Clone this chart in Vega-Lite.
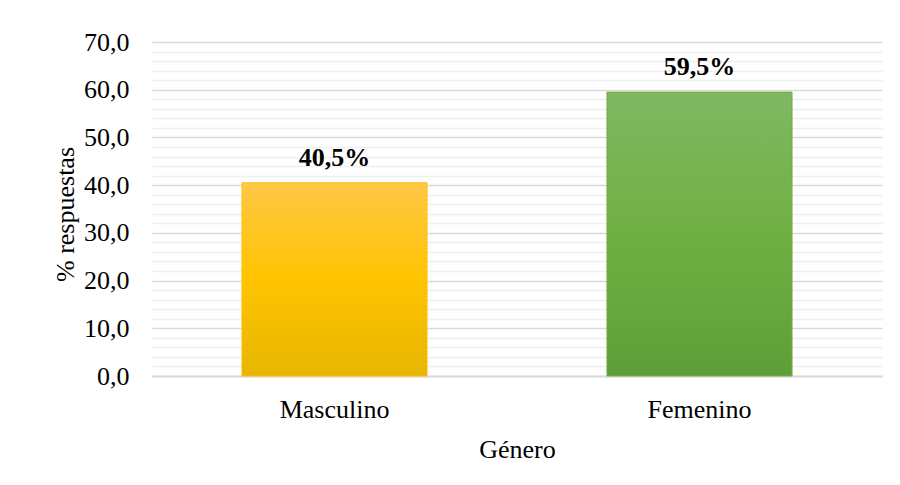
{
  "$schema": "https://vega.github.io/schema/vega-lite/v6.json",
  "autosize": "none",
  "width": 730,
  "height": 334,
  "padding": {"left": 152, "top": 42, "right": 18, "bottom": 109},
  "background": "white",
  "config": {
    "view": {"stroke": null},
    "font": "Liberation Serif"
  },
  "data": {
    "values": [
      {"genero": "Masculino", "pct": 40.5, "label": "40,5%"},
      {"genero": "Femenino", "pct": 59.5, "label": "59,5%"}
    ]
  },
  "encoding": {
    "x": {
      "field": "genero",
      "type": "nominal",
      "sort": ["Masculino", "Femenino"],
      "scale": {"paddingInner": 0.493, "paddingOuter": 0.2465},
      "axis": {
        "title": "Género",
        "labelAngle": 0,
        "labelFont": "Liberation Serif",
        "labelFontSize": 26,
        "labelColor": "#000000",
        "labelPadding": 20,
        "ticks": false,
        "domainColor": "#d9d9d9",
        "domainWidth": 2,
        "titleFont": "Liberation Serif",
        "titleFontSize": 26,
        "titleFontWeight": "normal",
        "titleColor": "#000000",
        "titlePadding": 14
      }
    },
    "y": {
      "field": "pct",
      "type": "quantitative",
      "scale": {"domain": [0, 70], "nice": false},
      "axis": {
        "title": "% respuestas",
        "values": [0, 2, 4, 6, 8, 10, 12, 14, 16, 18, 20, 22, 24, 26, 28, 30, 32, 34, 36, 38, 40, 42, 44, 46, 48, 50, 52, 54, 56, 58, 60, 62, 64, 66, 68, 70],
        "labelExpr": "datum.value % 10 === 0 ? replace(format(datum.value, '.1f'), '.', ',') : ''",
        "labelFont": "Liberation Serif",
        "labelFontSize": 26,
        "labelColor": "#000000",
        "labelPadding": 23,
        "ticks": false,
        "domain": false,
        "grid": true,
        "gridColor": {"condition": {"test": "datum.value % 10 === 0", "value": "#d9d9d9"}, "value": "#efefef"},
        "gridWidth": {"condition": {"test": "datum.value % 10 === 0", "value": 1.5}, "value": 1.5},
        "titleFont": "Liberation Serif",
        "titleFontSize": 26,
        "titleFontWeight": "normal",
        "titleColor": "#000000",
        "titlePadding": 5,
        "titleY": 172
      }
    }
  },
  "layer": [
    {
      "mark": {"type": "bar", "strokeWidth": 1},
      "encoding": {
        "fill": {
          "condition": {
            "test": "datum.genero === 'Masculino'",
            "value": {
              "gradient": "linear", "x1": 0, "y1": 0, "x2": 0, "y2": 1,
              "stops": [
                {"offset": 0, "color": "#ffc746"},
                {"offset": 0.5, "color": "#ffc400"},
                {"offset": 1, "color": "#e6b600"}
              ]
            }
          },
          "value": {
            "gradient": "linear", "x1": 0, "y1": 0, "x2": 0, "y2": 1,
            "stops": [
              {"offset": 0, "color": "#80b862"},
              {"offset": 0.5, "color": "#70b042"},
              {"offset": 1, "color": "#5e9e38"}
            ]
          }
        },
        "stroke": {
          "condition": {"test": "datum.genero === 'Masculino'", "value": "#ffc000"},
          "value": "#70ad47"
        }
      }
    },
    {
      "mark": {
        "type": "text",
        "font": "Liberation Serif",
        "fontSize": 26,
        "fontWeight": "bold",
        "color": "#000000",
        "baseline": "alphabetic",
        "dy": -17
      },
      "encoding": {
        "text": {"field": "label", "type": "nominal"}
      }
    }
  ]
}
